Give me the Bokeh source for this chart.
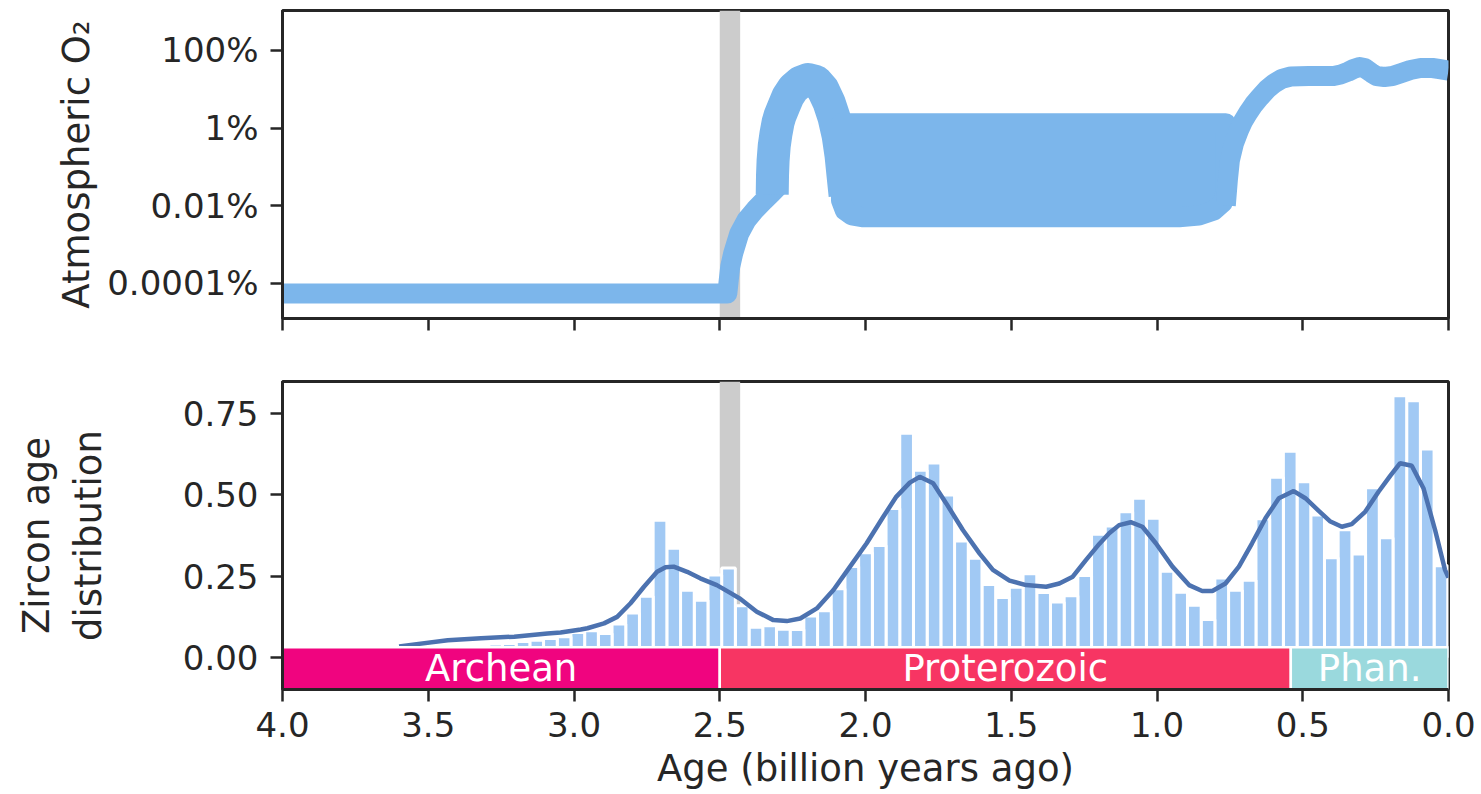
import numpy as np
from bokeh.plotting import figure
from bokeh.layouts import column
from bokeh.models import Range1d, FixedTicker, BoxAnnotation, NumeralTickFormatter, Title
from bokeh.embed import file_html
from bokeh.resources import INLINE
from bokeh.core.properties import value

# ---------------- data ----------------
# Zircon age histogram (density), youngest bin first; bins of 0.047 Gyr from 0.0025 Ga
bin_start = 0.0025
bin_width = 0.047
zircon_density = [0.282, 0.642, 0.791, 0.806, 0.368, 0.522, 0.318, 0.393, 0.306, 0.438,
                  0.541, 0.635, 0.555, 0.427, 0.237, 0.206, 0.244, 0.116, 0.160, 0.200,
                  0.265, 0.428, 0.490, 0.448, 0.404, 0.379, 0.252, 0.189, 0.170, 0.199,
                  0.257, 0.215, 0.184, 0.224, 0.305, 0.358, 0.500, 0.599, 0.576, 0.690,
                  0.458, 0.344, 0.322, 0.279, 0.211, 0.143, 0.127, 0.085, 0.086, 0.097,
                  0.092, 0.158, 0.275, 0.253, 0.175, 0.206, 0.336, 0.422, 0.188, 0.136,
                  0.102, 0.073, 0.081, 0.076, 0.063, 0.057, 0.052, 0.048, 0.042, 0.040,
                  0.038, 0.038, 0.037, 0.035, 0.030, 0.025, 0.020]

# KDE of zircon ages
kde_age = [3.60, 3.433, 3.319, 3.205, 3.091, 3.046, 2.977, 2.954, 2.897, 2.852, 2.806, 2.76,
           2.715, 2.686, 2.658, 2.612, 2.567, 2.51, 2.464, 2.43, 2.373, 2.316, 2.27, 2.224,
           2.167, 2.11, 2.053, 1.996, 1.939, 1.894, 1.848, 1.814, 1.768, 1.723, 1.666, 1.609,
           1.563, 1.506, 1.449, 1.38, 1.335, 1.289, 1.244, 1.198, 1.164, 1.13, 1.09, 1.05,
           1.004, 0.947, 0.89, 0.845, 0.81, 0.765, 0.719, 0.674, 0.628, 0.582, 0.531, 0.491,
           0.446, 0.405, 0.366, 0.332, 0.286, 0.24, 0.2, 0.166, 0.126, 0.086, 0.046, 0.012, 0.0]
kde_val = [0.033, 0.052, 0.058, 0.063, 0.073, 0.076, 0.085, 0.089, 0.104, 0.124, 0.166, 0.217,
           0.263, 0.277, 0.279, 0.263, 0.243, 0.222, 0.198, 0.180, 0.140, 0.114, 0.111, 0.119,
           0.150, 0.207, 0.279, 0.351, 0.433, 0.495, 0.538, 0.556, 0.536, 0.474, 0.392, 0.320,
           0.269, 0.236, 0.222, 0.217, 0.227, 0.248, 0.299, 0.349, 0.382, 0.407, 0.416, 0.402,
           0.351, 0.279, 0.222, 0.204, 0.204, 0.227, 0.279, 0.351, 0.428, 0.490, 0.512, 0.490,
           0.452, 0.418, 0.402, 0.410, 0.448, 0.510, 0.559, 0.598, 0.590, 0.521, 0.392, 0.269, 0.245]

# Atmospheric O2 (percent) — Archean level and Great Oxidation rise
archean_age = [4.0, 2.474, 2.470, 2.464, 2.454, 2.433, 2.409, 2.378, 2.348, 2.320, 2.300]
archean_o2 = [5.52e-5, 5.52e-5, 1.06e-4, 2.74e-4, 5.92e-4, 1.94e-3, 4.19e-3, 8.03e-3,
              1.37e-2, 2.20e-2, 3.15e-2]
# Lomagundi overshoot
overshoot_age = [2.320, 2.319, 2.317, 2.313, 2.307, 2.300, 2.293, 2.279, 2.266, 2.248, 2.224,
                 2.197, 2.170, 2.146, 2.125, 2.108, 2.094, 2.084, 2.077, 2.070]
overshoot_o2 = [0.0196, 0.0604, 0.147, 0.357, 0.728, 1.40, 2.12, 3.83, 6.53, 10.5, 15.0,
                17.9, 15.9, 9.91, 4.58, 1.88, 0.647, 0.198, 0.0604, 0.0185]
# Proterozoic range (upper and lower bounds)
prot_age = [2.084, 2.084, 2.071, 2.047, 2.012, 0.924, 0.856, 0.805, 0.774, 0.764, 0.764]
prot_upper = [1.343] * 11
prot_lower = [1.343, 0.0137, 0.00759, 0.00564, 0.00509, 0.00509, 0.00564, 0.00759, 0.0122, 0.0248, 1.343]
# Neoproterozoic rise and Phanerozoic
phan_age = [0.764, 0.757, 0.750, 0.736, 0.719, 0.705, 0.688, 0.668, 0.647, 0.623, 0.599,
            0.572, 0.541, 0.480, 0.394, 0.370, 0.343, 0.326, 0.305, 0.288, 0.264, 0.247,
            0.220, 0.192, 0.161, 0.131, 0.096, 0.055, 0.032, 0.0]
phan_o2 = [0.0102, 0.0449, 0.147, 0.403, 0.871, 1.49, 2.43, 4.06, 6.27, 9.91, 14.1,
           18.5, 21.4, 22.0, 22.0, 24.1, 28.8, 33.4, 37.6, 35.4, 26.4, 22.0,
           20.8, 22.0, 26.4, 31.5, 35.4, 35.4, 33.4, 30.5]

goe_start, goe_end = 2.5, 2.43

eon_names = ["Archean", "Proterozoic", "Phan."]
eon_start = [4.0, 2.5, 0.541]
eon_end = [2.5, 0.541, 0.0]
eon_colors = ["#f0047f", "#f73563", "#9ad9dd"]

age_ticks = [4.0, 3.5, 3.0, 2.5, 2.0, 1.5, 1.0, 0.5, 0.0]
o2_ticks = [0.0001, 0.01, 1, 100]
o2_tick_labels = ["0.0001%", "0.01%", "1%", "100%"]
density_ticks = [0.0, 0.25, 0.5, 0.75]

# ---------------- style ----------------
FONT = "DejaVu Sans"
INK = "#262626"
O2_COLOR = "#7cb6eb"
BAR_COLOR = "#a1c9f4"
KDE_COLOR = "#4c72b0"
GRAY = "#cccccc"


def style(p):
    p.outline_line_color = INK
    p.outline_line_width = 3
    p.outline_line_alpha = 1
    p.xgrid.visible = False
    p.ygrid.visible = False
    for ax in p.xaxis + p.yaxis:
        ax.axis_line_color = INK
        ax.axis_line_width = 3
        ax.major_tick_line_color = INK
        ax.major_tick_line_width = 2.5
        ax.major_tick_out = 12
        ax.major_tick_in = 0
        ax.minor_tick_line_color = None
        ax.major_label_text_font = FONT
        ax.major_label_text_font_size = "34px"
        ax.major_label_text_color = INK
        ax.axis_label_text_font = FONT
        ax.axis_label_text_font_size = "37px"
        ax.axis_label_text_font_style = "normal"
        ax.axis_label_text_color = INK
    p.background_fill_color = "white"
    p.border_fill_color = "white"


# ---------------- top panel ----------------
p1 = figure(width=1481, height=350, x_range=Range1d(4.0, 0.0), y_range=Range1d(1.25e-5, 1072),
            y_axis_type="log", output_backend="svg", toolbar_location=None,
            min_border_left=282, min_border_right=33, min_border_top=10, min_border_bottom=32)
style(p1)
p1.add_layout(BoxAnnotation(left=goe_end, right=goe_start, fill_color=GRAY, fill_alpha=1,
                            line_color=None, level="underlay"))
p1.line(archean_age, archean_o2, line_width=20, line_color=O2_COLOR, line_join="round", line_cap="butt")
p1.line(overshoot_age, overshoot_o2, line_width=33, line_color=O2_COLOR, line_join="round", line_cap="butt")
p1.patch(prot_age + prot_age[::-1], prot_upper + prot_lower[::-1], fill_color=O2_COLOR,
         line_color=O2_COLOR, line_width=20, line_join="round")
p1.line(phan_age, phan_o2, line_width=20, line_color=O2_COLOR, line_join="round", line_cap="butt")

p1.yaxis.ticker = FixedTicker(ticks=o2_ticks)
p1.yaxis.major_label_overrides = {t: lab for t, lab in zip(o2_ticks, o2_tick_labels)}
p1.yaxis.major_label_standoff = 12
p1.yaxis.axis_label = "Atmospheric O₂"
p1.yaxis.axis_label_standoff = 6
p1.xaxis.ticker = FixedTicker(ticks=age_ticks)
p1.xaxis.major_label_overrides = {t: "" for t in age_ticks}
p1.xaxis.major_label_text_font_size = "2px"
p1.xaxis.major_label_standoff = 0

# ---------------- bottom panel ----------------
p2 = figure(width=1481, height=444, x_range=Range1d(4.0, 0.0), y_range=Range1d(-0.1, 0.85),
            output_backend="svg", toolbar_location=None,
            min_border_left=282, min_border_right=33, min_border_top=31, min_border_bottom=105)
style(p2)
p2.add_layout(BoxAnnotation(left=goe_end, right=goe_start, fill_color=GRAY, fill_alpha=1,
                            line_color=None, level="underlay"))
centers = [bin_start + bin_width * (k + 0.5) for k in range(len(zircon_density))]
p2.vbar(x=centers, width=bin_width, top=zircon_density, bottom=0, fill_color=BAR_COLOR,
        line_color="white", line_width=3)
p2.line(kde_age, kde_val, line_width=4.5, line_color=KDE_COLOR)
p2.quad(left=eon_start, right=eon_end, bottom=-0.1, top=0.03, fill_color=eon_colors,
        line_color="white", line_width=2.5)
eon_mid = [(a + b) / 2 for a, b in zip(eon_start, eon_end)]
p2.text(x=eon_mid, y=[-0.035] * 3, text=eon_names, text_color="white", text_font=value(FONT),
        text_font_size="37px", text_align="center", text_baseline="middle")

p2.yaxis.ticker = FixedTicker(ticks=density_ticks)
p2.yaxis.formatter = NumeralTickFormatter(format="0.00")
p2.yaxis.major_label_standoff = 12
p2.yaxis.axis_label = "Zircon age\ndistribution"
p2.yaxis.axis_label_standoff = 70
p2.xaxis.ticker = FixedTicker(ticks=age_ticks)
p2.xaxis.formatter = NumeralTickFormatter(format="0.0")
p2.xaxis.major_label_standoff = 10

# x-axis title placed below the tick labels
p2.add_layout(Title(text="Age (billion years ago)", align="center", text_font=FONT,
                    text_font_size="37px", text_font_style="normal", text_color=INK,
                    standoff=10, vertical_align="bottom"), "below")

layout = column(p1, p2, spacing=0)
open("out.html", "w").write(file_html(layout, INLINE))
